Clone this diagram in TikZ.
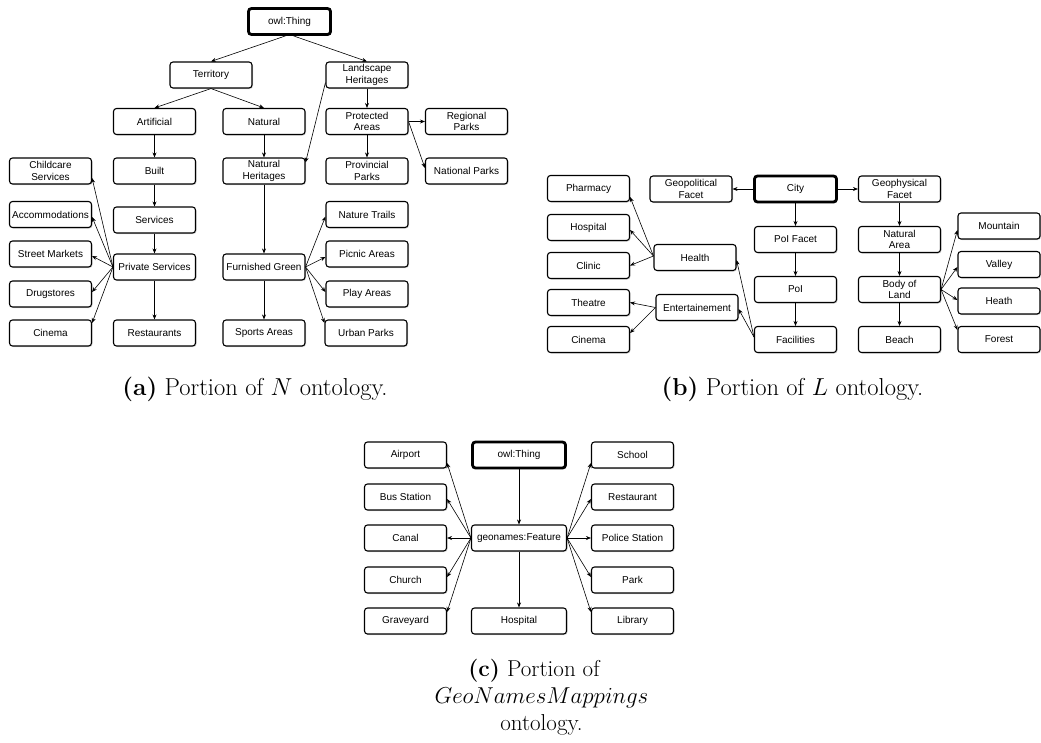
\RequirePackage{fix-cm}
\documentclass[tikz,border=0pt]{standalone}
\usepackage{fontspec}
\newfontfamily\clsfont{Liberation Sans}
\usepackage{tikz}
\usetikzlibrary{arrows.meta,shadows}
\tikzset{
  cls/.style={draw=black,fill=white,rounded corners=3pt,line width=1.1pt,
    minimum width=82pt,minimum height=26pt,inner sep=1pt,align=center,
    font=\clsfont\fontsize{10}{11.5}\selectfont,
    drop shadow={shadow xshift=1pt,shadow yshift=-1pt,opacity=0.35}},
  root/.style={cls,line width=2.8pt},
  isa/.style={-{Stealth[length=5pt,width=4pt]},line width=0.6pt},
  capt/.style={font=\fontsize{24.5}{28}\selectfont,inner sep=0pt,anchor=base},
}

\begin{document}
\begin{tikzpicture}[x=1pt,y=-1pt]
\useasboundingbox (0,0) rectangle (1041,742);
% (a) N ontology
\node[root] (thing) at (289.5,21.5) {owl:Thing};
\node[cls] (terr) at (211,75) {Territory};
\node[cls] (land) at (367,75) {Landscape\\Heritages};
\node[cls] (art) at (154.5,121.5) {Artificial};
\node[cls] (nat) at (264,121.5) {Natural};
\node[cls] (prot) at (367,121.5) {Protected\\Areas};
\node[cls] (reg) at (466.5,121.5) {Regional\\Parks};
\node[cls] (child) at (50.5,171) {Childcare\\Services};
\node[cls] (built) at (154.5,171) {Built};
\node[cls] (natH) at (264,171) {Natural\\Heritages};
\node[cls] (prov) at (367,171) {Provincial\\Parks};
\node[cls] (natP) at (466.5,171) {National Parks};
\node[cls] (acc) at (50.5,214.5) {Accommodations};
\node[cls] (serv) at (154.5,220) {Services};
\node[cls] (trail) at (367,214.5) {Nature Trails};
\node[cls] (market) at (50.5,254) {Street Markets};
\node[cls] (priv) at (154.5,267) {Private Services};
\node[cls] (green) at (264,267) {Furnished Green};
\node[cls] (picnic) at (367,254) {Picnic Areas};
\node[cls] (drug) at (50.5,294) {Drugstores};
\node[cls] (play) at (367,294) {Play Areas};
\node[cls] (cinA) at (50.5,333) {Cinema};
\node[cls] (rest) at (154.5,333) {Restaurants};
\node[cls] (sport) at (264,333) {Sports Areas};
\node[cls] (urban) at (366,333) {Urban Parks};
\draw[isa] ([xshift=-4pt]thing.south) -- (terr.north);
\draw[isa] ([xshift=4pt]thing.south) -- (land.north);
\draw[isa] (terr.south) -- (art.north);
\draw[isa] (terr.south) -- (nat.north);
\draw[isa] (land) -- (prot);
\draw[isa] ([yshift=6pt]land.south west) -- ([yshift=-5pt]natH.north east);
\draw[isa] (prot) -- (reg);
\draw[isa] (prot.east) -- ([yshift=3pt]natP.west);
\draw[isa] (prot) -- (prov);
\draw[isa] (art) -- (built);
\draw[isa] (nat) -- (natH);
\draw[isa] (built) -- (serv);
\draw[isa] (serv) -- (priv);
\draw[isa] (priv) -- (rest);
\draw[isa] (natH) -- (green);
\draw[isa] (green) -- (sport);
\draw[isa] (priv.west) -- ([yshift=-7pt]child.east);
\draw[isa] (priv.west) -- ([yshift=-2.5pt]acc.east);
\draw[isa] (priv.west) -- ([yshift=-2pt]market.east);
\draw[isa] (priv.west) -- ([yshift=2pt]drug.east);
\draw[isa] (priv.west) -- ([yshift=10pt]cinA.east);
\draw[isa] (green.east) -- ([yshift=-2pt]trail.west);
\draw[isa] (green.east) -- ([yshift=-3pt]picnic.west);
\draw[isa] (green.east) -- ([yshift=2pt]play.west);
\draw[isa] (green.east) -- ([yshift=10pt]urban.west);
\node[capt] (capA) at (255,395) {\textbf{(a)} Portion of $N$ ontology.};
% (b) L ontology
\begin{scope}[every node/.append style={minimum width=81pt}]
\node[cls] (pharm) at (588.5,188.5) {Pharmacy};
\node[cls] (gpol) at (691,189) {Geopolitical\\Facet};
\node[root] (city) at (795.5,189) {City};
\node[cls] (gphy) at (899.5,189) {Geophysical\\Facet};
\node[cls] (hosp) at (588.5,227.5) {Hospital};
\node[cls] (poiF) at (795.5,239.5) {PoI Facet};
\node[cls] (natA) at (899.5,239.5) {Natural\\Area};
\node[cls] (mount) at (999,226) {Mountain};
\node[cls] (clinic) at (588.5,265.5) {Clinic};
\node[cls] (health) at (695,257.5) {Health};
\node[cls] (valley) at (999,264.5) {Valley};
\node[cls] (poi) at (795.5,289.5) {PoI};
\node[cls] (body) at (899.5,289.5) {Body of\\Land};
\node[cls] (thea) at (588.5,302.5) {Theatre};
\node[cls] (ent) at (697,307.5) {Entertainement};
\node[cls] (heath) at (999,301) {Heath};
\node[cls] (cinB) at (588.5,339.5) {Cinema};
\node[cls] (fac) at (795.5,339.5) {Facilities};
\node[cls] (beach) at (899.5,339.5) {Beach};
\node[cls] (forest) at (999,339.5) {Forest};
\end{scope}
\draw[isa] (city) -- (gpol);
\draw[isa] (city) -- (gphy);
\draw[isa] (city) -- (poiF);
\draw[isa] (poiF) -- (poi);
\draw[isa] (poi) -- (fac);
\draw[isa] (gphy) -- (natA);
\draw[isa] (natA) -- (body);
\draw[isa] (body) -- (beach);
\draw[isa] (body.east) -- ([yshift=-4pt]mount.west);
\draw[isa] (body.east) -- ([yshift=-2.5pt]valley.west);
\draw[isa] (body.east) -- ([yshift=1pt]heath.west);
\draw[isa] (body.east) -- ([yshift=9.5pt]forest.west);
\draw[isa] ([yshift=2.5pt]fac.west) -- ([yshift=-2.5pt]health.east);
\draw[isa] ([yshift=2.5pt]fac.west) -- ([yshift=-1.5pt]ent.east);
\draw[isa] ([yshift=1.5pt]health.west) -- ([yshift=-8.5pt]pharm.east);
\draw[isa] ([yshift=1.5pt]health.west) -- ([yshift=-2.5pt]hosp.east);
\draw[isa] ([yshift=1.5pt]health.west) -- (clinic.east);
\draw[isa] (ent.west) -- (thea.east);
\draw[isa] (ent.west) -- ([yshift=6.5pt]cinB.east);
\node[capt] (capB) at (792.5,395) {\textbf{(b)} Portion of $L$ ontology.};
% (c) GeoNamesMappings ontology
\begin{scope}[every node/.append style={minimum width=87pt,minimum height=27pt}]
\node[cls] (air) at (405.5,455) {Airport};
\node[root,minimum width=93pt] (thing2) at (519,455) {owl:Thing};
\node[cls] (school) at (632.5,455) {School};
\node[cls] (bus) at (405.5,497) {Bus Station};
\node[cls] (restC) at (632.5,497) {Restaurant};
\node[cls] (canal) at (405.5,538) {Canal};
\node[cls,minimum width=95pt] (feat) at (519,538) {geonames:Feature};
\node[cls] (police) at (632.5,538) {Police Station};
\node[cls] (church) at (405.5,580) {Church};
\node[cls] (park) at (632.5,580) {Park};
\node[cls] (grave) at (405.5,621) {Graveyard};
\node[cls,minimum width=95pt] (hospC) at (519,621) {Hospital};
\node[cls] (library) at (632.5,621) {Library};
\end{scope}
\draw[isa] (thing2) -- (feat);
\draw[isa] (feat) -- (hospC);
\draw[isa] (feat.west) -- ([yshift=-8pt]air.east);
\draw[isa] (feat.west) -- ([yshift=-2pt]bus.east);
\draw[isa] (feat.west) -- (canal.east);
\draw[isa] (feat.west) -- ([yshift=3pt]church.east);
\draw[isa] (feat.west) -- ([yshift=9pt]grave.east);
\draw[isa] (feat.east) -- ([yshift=-8pt]school.west);
\draw[isa] (feat.east) -- ([yshift=-2pt]restC.west);
\draw[isa] (feat.east) -- (police.west);
\draw[isa] (feat.east) -- ([yshift=3pt]park.west);
\draw[isa] (feat.east) -- ([yshift=9pt]library.west);
\node[capt,font=\fontsize{23}{27}\selectfont,align=center,anchor=north] (capC) at (541.5,659)
  {\textbf{(c)} Portion of\rule{15pt}{0pt}\\$GeoNamesMappings$\\ontology.};
\end{tikzpicture}
\end{document}
